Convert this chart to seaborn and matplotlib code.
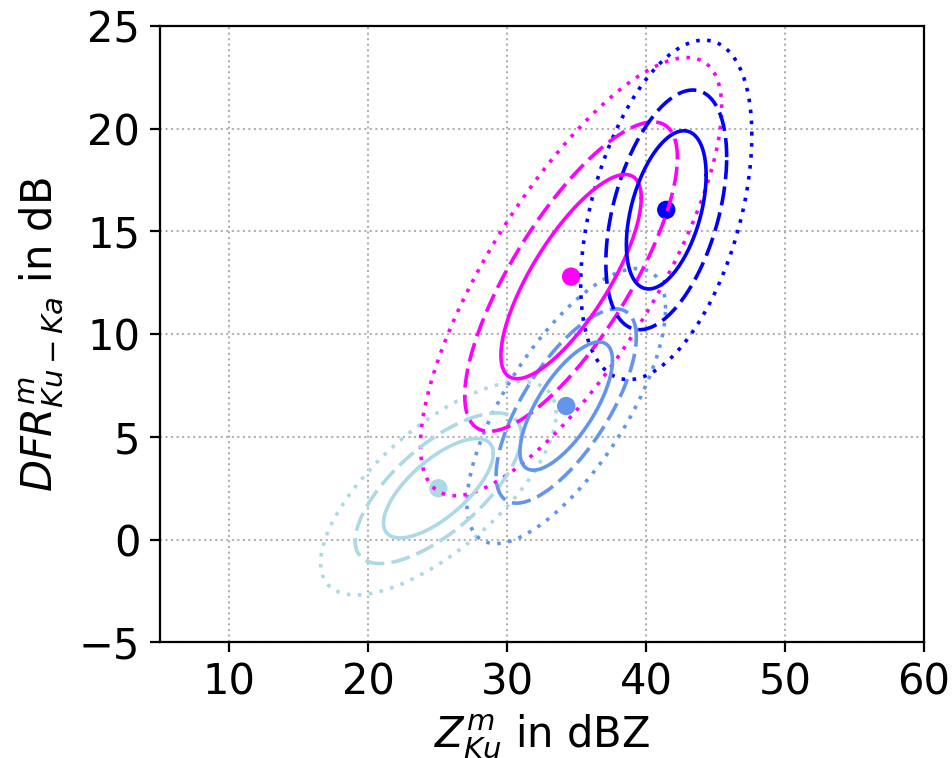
import numpy as np
import pandas as pd
import matplotlib
matplotlib.use("Agg")
import matplotlib.pyplot as plt
import seaborn as sns

# Cluster statistics: mean reflectivity / DFR, standard deviations and correlation
clusters = ["C1", "C2", "C3", "C4"]
colors = ["lightblue", "cornflowerblue", "magenta", "blue"]
mean_z = [25.05, 34.25, 34.6, 41.45]
mean_dfr = [2.5, 6.5, 12.8, 16.05]
sd_z = [3.95, 3.33, 5.05, 2.87]
sd_dfr = [2.42, 3.12, 4.97, 3.85]
corr = [0.70, 0.71, 0.77, 0.44]

# Probability content of the drawn ellipses (outer first) and their line styles
levels = [0.90, 0.6827, 0.3935]
styles = [(0, (1.0, 2.05)), (0, (5.3, 2.0)), "-"]

xticks = [10, 20, 30, 40, 50, 60]
yticks = [-5, 0, 5, 10, 15, 20, 25]

sns.set_theme(style="ticks")
plt.rcParams["font.family"] = ["DejaVu Sans"]
plt.rcParams["mathtext.fontset"] = "dejavusans"

fig = plt.figure(figsize=(9.53, 7.58), dpi=100)
ax = fig.add_axes([159.8 / 953, 1 - 642.3 / 758, (924 - 159.8) / 953, (642.3 - 26) / 758])

means = pd.DataFrame({"cluster": clusters, "z": mean_z, "dfr": mean_dfr})
sns.scatterplot(data=means, x="z", y="dfr", hue="cluster", palette=colors,
                s=175, linewidth=0, legend=False, ax=ax, zorder=3)

t = np.linspace(0, 2 * np.pi, 400)
for p, ls in zip(levels, styles):
    k = np.sqrt(-2 * np.log(1 - p))
    for i in range(len(clusters)):
        sx, sy, r = sd_z[i], sd_dfr[i], corr[i]
        ex = mean_z[i] + k * sx * np.cos(t)
        ey = mean_dfr[i] + k * sy * (r * np.cos(t) + np.sqrt(1 - r ** 2) * np.sin(t))
        ax.plot(ex, ey, color=colors[i], linestyle=ls, lw=2.6, zorder=4)

ax.set_xlim(5, 60)
ax.set_ylim(-5, 25)
ax.set_xticks(xticks)
ax.set_yticks(yticks)
ax.grid(True, linestyle=":", color="#b0b0b0", linewidth=1.5)
for sp in ax.spines.values():
    sp.set_visible(True)
    sp.set_color("black")
    sp.set_linewidth(1.6)
ax.tick_params(axis="both", labelsize=30, length=7, width=1.6, color="black",
               labelcolor="black", direction="out", pad=7)
ax.set_xlabel(r"$Z^{m}_{Ku}$ in dBZ", fontsize=30, color="black", labelpad=6)
ax.set_ylabel(r"$DFR^{m}_{Ku-Ka}$ in dB", fontsize=30, color="black", labelpad=10)
ax.set_facecolor("white")
fig.patch.set_facecolor("white")

fig.savefig("out.png", dpi=100)
